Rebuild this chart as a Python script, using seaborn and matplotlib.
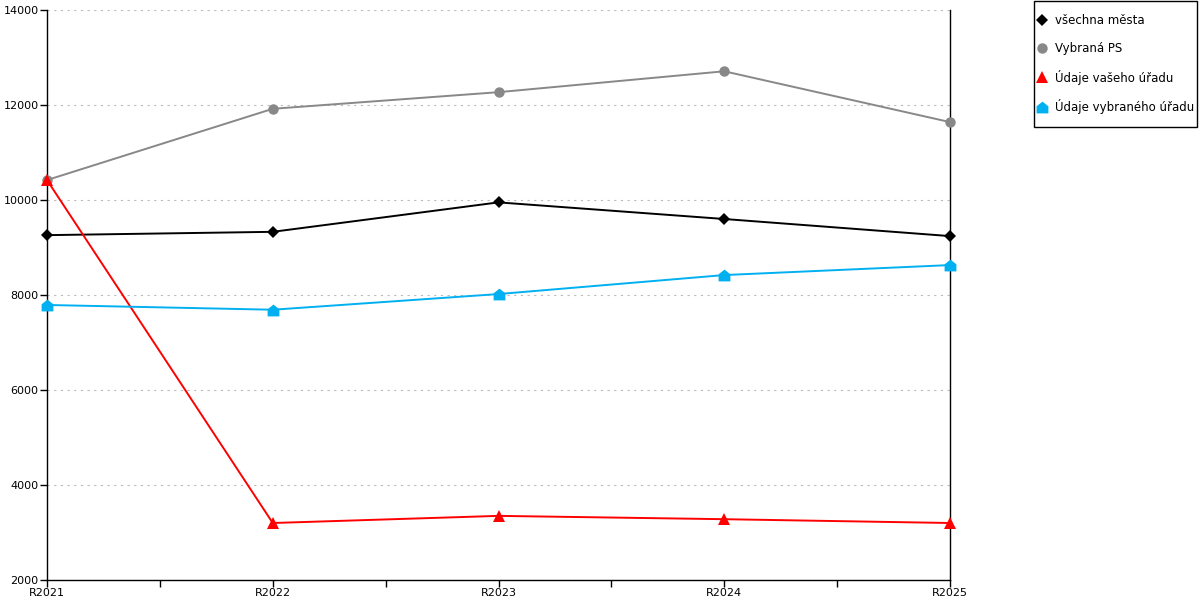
import matplotlib
matplotlib.use("Agg")
import matplotlib.pyplot as plt
from matplotlib.lines import Line2D
from matplotlib.patches import Rectangle
from matplotlib.ticker import MultipleLocator
import pandas as pd
import seaborn as sns

# data
roky = ["R2021", "R2022", "R2023", "R2024", "R2025"]
vsechna_mesta = [9260, 9330, 9950, 9600, 9240]
vybrana_ps = [10420, 11920, 12270, 12710, 11640]
vas_urad = [10420, 3200, 3350, 3280, 3200]
vybrany_urad = [7790, 7690, 8020, 8420, 8630]

nazvy = ["všechna města", "Vybraná PS", "Údaje vašeho úřadu", "Údaje vybraného úřadu"]
barvy = ["#000000", "#888888", "#ff0000", "#00b0f0"]
domek = [(-1, -1), (1, -1), (1, 0.2), (0, 1), (-1, 0.2), (-1, -1)]
znacky = ["D", "o", "^", domek]
velikosti = [6, 7.5, 8, 8.5]

sns.set_style("white")
plt.rcParams["font.family"] = ["DejaVu Sans"]
plt.rcParams["font.size"] = 8
plt.rcParams["text.color"] = "black"
plt.rcParams["xtick.color"] = "black"
plt.rcParams["ytick.color"] = "black"

fig = plt.figure(figsize=(12, 6), dpi=100)
ax = fig.add_axes([47 / 1200, 20 / 600, 903 / 1200, 570 / 600])

serie = [vsechna_mesta, vybrana_ps, vas_urad, vybrany_urad]
for hodnoty, nazev, barva, znacka, vel in zip(serie, nazvy, barvy, znacky, velikosti):
    df = pd.DataFrame({"rok": range(len(roky)), "hodnota": hodnoty})
    sns.lineplot(data=df, x="rok", y="hodnota", color=barva, marker=znacka,
                 markersize=vel, markeredgewidth=0, linewidth=1.4, ax=ax,
                 clip_on=False, zorder=3)

ax.set_xlim(0, len(roky) - 1)
ax.set_ylim(2000, 14000)
ax.set_xticks(range(len(roky)))
ax.set_xticklabels(roky)
ax.xaxis.set_minor_locator(MultipleLocator(0.5))
ax.yaxis.set_major_locator(MultipleLocator(2000))
ax.set_xlabel("")
ax.set_ylabel("")

ax.grid(axis="y", color="#bbbbbb", linestyle=(0, (2, 4)), linewidth=0.8)
ax.set_axisbelow(True)
for strana in ["left", "bottom", "right"]:
    ax.spines[strana].set_color("black")
    ax.spines[strana].set_linewidth(1)
ax.spines["top"].set_visible(False)

ax.tick_params(axis="both", which="both", direction="out", length=5, width=1,
               color="black", labelsize=8, pad=1, bottom=True, left=True)
ax.tick_params(axis="x", which="minor", length=5)

# legend box drawn by hand, legend itself without frame
fig.patches.append(Rectangle((1034 / 1200, 1 - 127 / 600), 163 / 1200, 126 / 600,
                             transform=fig.transFigure, fill=False,
                             edgecolor="black", linewidth=1))
handles = [Line2D([], [], color=b, marker=z, markersize=v, markeredgewidth=0, linestyle="none")
           for b, z, v in zip(barvy, znacky, velikosti)]
fig.legend(handles, nazvy, loc="upper left", bbox_to_anchor=(1038 / 1200, 1 - 14 / 600),
           frameon=False, fontsize=8.5, labelspacing=1.25, handlelength=0.7,
           handletextpad=0.75, borderpad=0, borderaxespad=0)

fig.savefig("out.png", dpi=100)
